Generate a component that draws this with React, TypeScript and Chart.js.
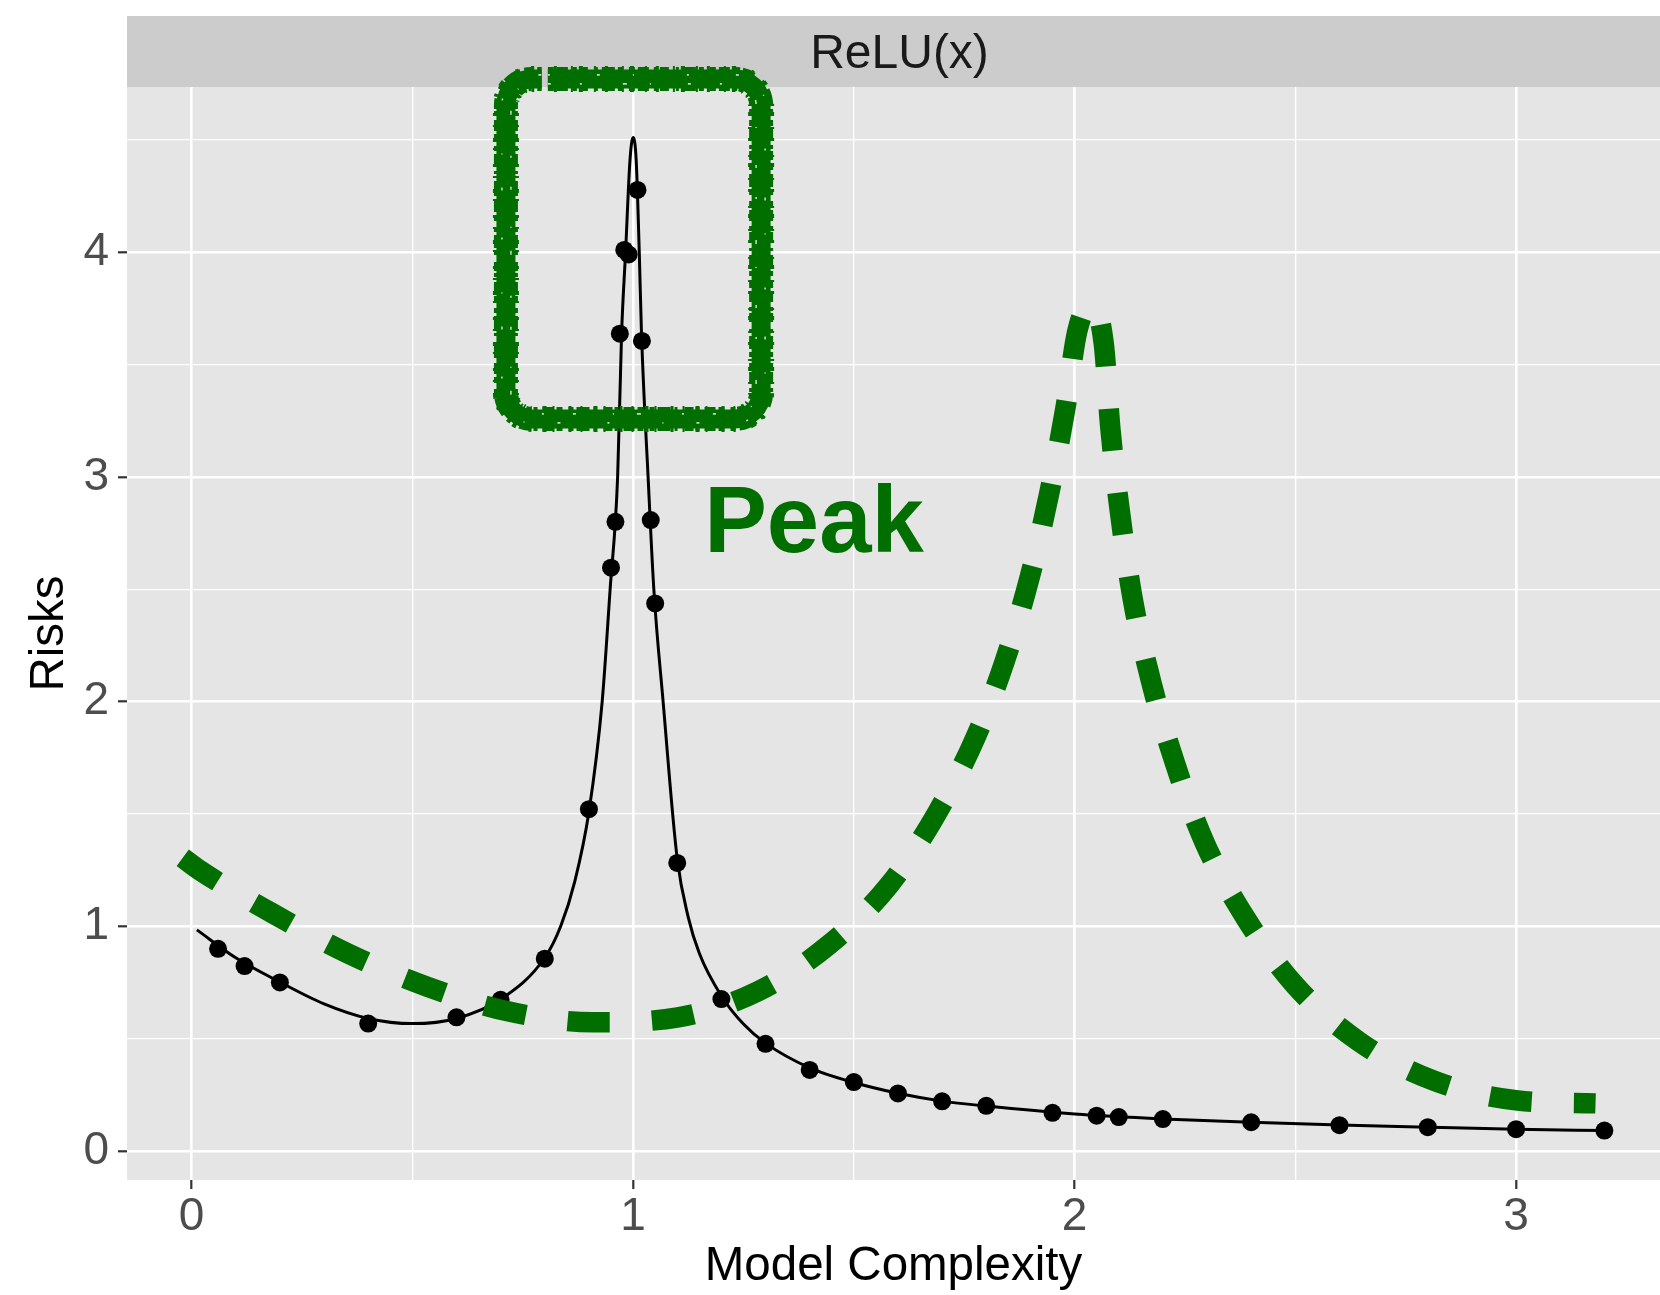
import React, { useEffect, useRef } from "react";
import { Chart, registerables } from "chart.js";

Chart.register(...registerables);

// Theoretical risk curve (smooth line)
const fitX = [0.012, 0.1, 0.2, 0.3, 0.4, 0.5, 0.6, 0.7, 0.8, 0.836, 0.868, 0.9, 0.93, 0.948, 0.965, 0.974, 0.983, 0.993, 1.0, 1.007, 1.014, 1.019, 1.034, 1.047, 1.068, 1.1, 1.125, 1.15, 1.2, 1.25, 1.3, 1.4, 1.5, 1.6, 1.7, 1.8, 2.0, 2.2, 2.4, 2.6, 2.8, 3.0, 3.2];
const fitY = [0.984, 0.86, 0.752, 0.655, 0.59, 0.567, 0.59, 0.675, 0.86, 1.0, 1.2, 1.51, 2.0, 2.5, 3.0, 3.64, 4.0, 4.41, 4.51, 4.41, 4.0, 3.64, 3.0, 2.5, 2.0, 1.3, 1.04, 0.88, 0.69, 0.565, 0.48, 0.37, 0.305, 0.257, 0.222, 0.2, 0.165, 0.143, 0.128, 0.116, 0.106, 0.097, 0.091];

// Simulated risks (dots)
const simX = [0.06, 0.12, 0.2, 0.4, 0.6, 0.7, 0.8, 0.9, 0.95, 0.96, 0.97, 0.98, 0.99, 1.01, 1.02, 1.04, 1.05, 1.1, 1.2, 1.3, 1.4, 1.5, 1.6, 1.7, 1.8, 1.95, 2.05, 2.1, 2.2, 2.4, 2.6, 2.8, 3.0, 3.2];
const simY = [0.9, 0.823, 0.75, 0.567, 0.595, 0.673, 0.856, 1.521, 2.596, 2.8, 3.637, 4.01, 3.99, 4.277, 3.605, 2.808, 2.437, 1.282, 0.676, 0.477, 0.361, 0.307, 0.256, 0.221, 0.201, 0.17, 0.157, 0.151, 0.142, 0.128, 0.115, 0.106, 0.097, 0.091];

// Sketched shifted peak (dashed green)
const sketchX = [-0.02, 0.018, 0.183, 0.353, 0.533, 0.716, 0.908, 1.102, 1.282, 1.445, 1.581, 1.688, 1.776, 1.841, 1.899, 1.943, 1.979, 2.006, 2.037, 2.066, 2.081, 2.103, 2.131, 2.173, 2.227, 2.294, 2.387, 2.5, 2.645, 2.815, 3.004, 3.18];
const sketchY = [1.305, 1.25, 1.058, 0.88, 0.732, 0.622, 0.573, 0.595, 0.71, 0.92, 1.186, 1.503, 1.842, 2.175, 2.558, 2.931, 3.303, 3.647, 3.77, 3.595, 3.217, 2.84, 2.464, 2.092, 1.728, 1.375, 1.038, 0.736, 0.486, 0.312, 0.225, 0.212];

const xTicks = [0, 0.5, 1, 1.5, 2, 2.5, 3];
const yTicks = [0, 0.5, 1, 1.5, 2, 2.5, 3, 3.5, 4, 4.5];

const panelTitle = "ReLU(x)";
const xTitle = "Model Complexity";
const yTitle = "Risks";
const calloutText = "Peak";

const W = 1660;
const H = 1295;
const FONT = '"Liberation Sans", Arial, Helvetica, sans-serif';
const GREEN = "#006F00";
const PANEL_BG = "#E5E5E5";
const STRIP_BG = "#CCCCCC";

// Callout geometry in data units
const BOX = { x0: 0.712, x1: 1.29, y0: 3.258, y1: 4.771, gapX0: 0.793, gapX1: 0.807 };
const CALLOUT = { x: 1.161, y: 2.667 };

const pts = (xs: number[], ys: number[]) => xs.map((x, i) => ({ x, y: ys[i] }));
const isMajor = (v: number) => Math.abs(v - Math.round(v)) < 1e-9;

function roundedOpenPath(ctx: CanvasRenderingContext2D, l: number, t: number, r: number, b: number, rad: number, g0: number, g1: number) {
  ctx.beginPath();
  ctx.moveTo(g1, t);
  ctx.lineTo(r - rad, t);
  ctx.arcTo(r, t, r, t + rad, rad);
  ctx.lineTo(r, b - rad);
  ctx.arcTo(r, b, r - rad, b, rad);
  ctx.lineTo(l + rad, b);
  ctx.arcTo(l, b, l, b - rad, rad);
  ctx.lineTo(l, t + rad);
  ctx.arcTo(l, t, l + rad, t, rad);
  ctx.lineTo(g0, t);
}

const decorPlugin = {
  id: "decor",
  beforeDraw(chart: any) {
    const { ctx, chartArea: a } = chart;
    ctx.save();
    ctx.fillStyle = PANEL_BG;
    ctx.fillRect(a.left, a.top, a.right - a.left, a.bottom - a.top);
    const stripTop = 16;
    ctx.fillStyle = STRIP_BG;
    ctx.fillRect(a.left, stripTop, a.right - a.left, a.top - stripTop);
    ctx.fillStyle = "#1A1A1A";
    ctx.font = `48px ${FONT}`;
    ctx.textAlign = "center";
    ctx.textBaseline = "middle";
    ctx.fillText(panelTitle, (a.left + a.right) / 2 + 6, (stripTop + a.top) / 2 + 3);
    ctx.restore();
  },
  afterDatasetsDraw(chart: any) {
    const { ctx } = chart;
    const xs = chart.scales.x;
    const ys = chart.scales.y;
    const l = xs.getPixelForValue(BOX.x0);
    const r = xs.getPixelForValue(BOX.x1);
    const t = ys.getPixelForValue(BOX.y1);
    const b = ys.getPixelForValue(BOX.y0);
    const g0 = xs.getPixelForValue(BOX.gapX0);
    const g1 = xs.getPixelForValue(BOX.gapX1);
    ctx.save();
    ctx.strokeStyle = GREEN;
    ctx.lineCap = "butt";
    ctx.lineJoin = "round";
    roundedOpenPath(ctx, l, t, r, b, 26, g0, g1);
    ctx.lineWidth = 19;
    ctx.stroke();
    // blotchy marker edge
    ctx.lineWidth = 24;
    ctx.setLineDash([6, 3, 11, 5, 4, 2, 9, 7, 3, 4, 13, 3, 5, 6]);
    ctx.stroke();
    ctx.lineWidth = 26;
    ctx.setLineDash([2, 9, 3, 14, 2, 6, 4, 11]);
    ctx.lineDashOffset = 5;
    ctx.stroke();
    // light flecks inside the marker stroke
    ctx.strokeStyle = "rgba(229,229,229,0.85)";
    ctx.lineWidth = 1.6;
    ctx.lineDashOffset = 0;
    ctx.setLineDash([3, 29, 2, 41, 4, 23, 1, 37]);
    roundedOpenPath(ctx, l + 5, t + 5, r - 5, b - 5, 21, g0, g1);
    ctx.stroke();
    ctx.setLineDash([2, 47, 3, 33, 1, 53]);
    roundedOpenPath(ctx, l - 4, t - 4, r + 4, b + 4, 30, g0, g1);
    ctx.stroke();
    ctx.setLineDash([]);

    ctx.fillStyle = GREEN;
    ctx.font = `bold 94px ${FONT}`;
    ctx.textAlign = "left";
    ctx.textBaseline = "alphabetic";
    ctx.fillText(calloutText, xs.getPixelForValue(CALLOUT.x), ys.getPixelForValue(CALLOUT.y));
    ctx.restore();
  },
};

export default function App() {
  const ref = useRef<HTMLCanvasElement | null>(null);

  useEffect(() => {
    const canvas = ref.current;
    if (!canvas) return;
    const chart = new Chart(canvas, {
      type: "line",
      data: {
        datasets: [
          {
            label: "sketch",
            data: pts(sketchX, sketchY),
            borderColor: GREEN,
            borderWidth: 20.5,
            borderDash: [42.2, 42.2],
            borderDashOffset: 0,
            borderCapStyle: "butt",
            cubicInterpolationMode: "monotone",
            pointRadius: 0,
            fill: false,
            order: 0,
          },
          {
            label: "simulated",
            data: pts(simX, simY),
            showLine: false,
            pointRadius: 9,
            pointBackgroundColor: "#000000",
            pointBorderWidth: 0,
            borderColor: "#000000",
            order: 1,
          },
          {
            label: "theory",
            data: pts(fitX, fitY),
            borderColor: "#000000",
            borderWidth: 3,
            cubicInterpolationMode: "monotone",
            pointRadius: 0,
            fill: false,
            order: 2,
          },
        ],
      },
      options: {
        animation: false,
        responsive: false,
        devicePixelRatio: 1,
        layout: { autoPadding: false, padding: { top: 87, left: 0, right: 0, bottom: 0 } },
        plugins: { legend: { display: false }, tooltip: { enabled: false } },
        events: [],
        scales: {
          x: {
            type: "linear",
            min: -0.1463,
            max: 3.326,
            afterBuildTicks: (s: any) => {
              s.ticks = xTicks.map((v) => ({ value: v }));
            },
            afterFit: (s: any) => {
              s.height = 115;
              s.paddingLeft = 0;
              s.paddingRight = 0;
            },
            border: { display: false },
            grid: {
              color: "#FFFFFF",
              lineWidth: (c: any) => (c.tick && isMajor(c.tick.value) ? 2.6 : 1.3),
              drawTicks: true,
              tickLength: 9,
              tickWidth: 2.2,
              tickColor: (c: any) => (c.tick && isMajor(c.tick.value) ? "#333333" : "rgba(0,0,0,0)"),
            },
            ticks: {
              autoSkip: false,
              maxRotation: 0,
              padding: 1,
              color: "#4D4D4D",
              font: { family: FONT, size: 46 },
              callback: (v: any) => (isMajor(Number(v)) ? String(v) : ""),
            },
            title: {
              display: true,
              text: xTitle,
              color: "#000000",
              font: { family: FONT, size: 47.5, lineHeight: 1.2 },
              padding: { top: 0, bottom: 0 },
            },
          },
          y: {
            type: "linear",
            min: -0.129,
            max: 4.735,
            afterBuildTicks: (s: any) => {
              s.ticks = yTicks.map((v) => ({ value: v }));
            },
            afterFit: (s: any) => {
              s.width = 127;
              s.paddingTop = 0;
              s.paddingBottom = 0;
            },
            border: { display: false },
            grid: {
              color: "#FFFFFF",
              lineWidth: (c: any) => (c.tick && isMajor(c.tick.value) ? 2.6 : 1.3),
              drawTicks: true,
              tickLength: 9,
              tickWidth: 2.2,
              tickColor: (c: any) => (c.tick && isMajor(c.tick.value) ? "#333333" : "rgba(0,0,0,0)"),
            },
            ticks: {
              autoSkip: false,
              padding: 9,
              color: "#4D4D4D",
              font: { family: FONT, size: 46 },
              callback: (v: any) => (isMajor(Number(v)) ? String(v) : ""),
            },
            title: {
              display: true,
              text: yTitle,
              color: "#000000",
              font: { family: FONT, size: 47.5, lineHeight: 1.2 },
              padding: { top: 21, bottom: 0 },
            },
          },
        },
      } as any,
      plugins: [decorPlugin as any],
    });
    return () => chart.destroy();
  }, []);

  return (
    <div style={{ position: "absolute", left: 0, top: 0, width: W, height: H, background: "#FFFFFF" }}>
      <canvas ref={ref} width={W} height={H} style={{ display: "block", width: W, height: H }} />
    </div>
  );
}
